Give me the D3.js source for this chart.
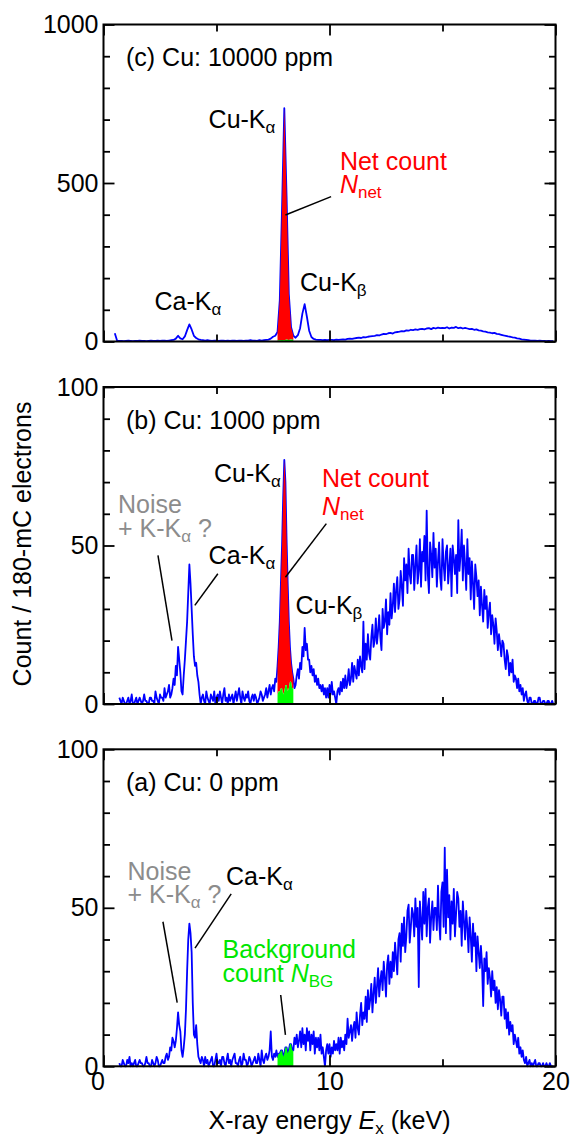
<!DOCTYPE html>
<html>
<head>
<meta charset="utf-8">
<script src="https://cdn.jsdelivr.net/npm/d3@7"></script>
<style>
  body { margin: 0; background: #fff; }
  text { font-family: "Liberation Sans", Arial, sans-serif; }
</style>
</head>
<body>
<svg id="chart" width="571" height="1138"></svg>
<script>
// channel energies in keV
// panel (c): 0.1 keV bins from 0.5 keV, panels (a),(b): 0.05 keV bins from 0.7 keV
var energyC = d3.range(195).map(function(i) { return Math.round((0.5 + i * 0.1) * 100) / 100; });
var energyAB = d3.range(385).map(function(i) { return Math.round((0.7 + i * 0.05) * 100) / 100; });

// (c) Cu 10000 ppm
var countsC = [26,
  3,2,2,1,2,3,2,1,2,2, 3,2,2,1,2,3,2,2,3,2, 3,3,2,3,4,
  5,9,18,10,7,16,36,54,38,18,
  11,7,5,4,3,4,3,2,3,3,
  2,3,3,2,3,2,3,3,2,3,
  3,2,3,3,4,3,3,2,4,3,
  4,5,6,9,15,18,30,130,420,736,
  460,150,45,18,12,20,42,88,118,78,
  34,14,8,6,5,5,4,5,4,5,
  5,4,6,5,6,7,6,8,9,8,
  10,11,12,11,14,13,15,16,17,18,
  20,19,22,24,23,26,27,25,29,30,
  31,33,32,35,34,37,36,38,37,39,
  40,38,41,42,39,43,41,44,42,43,
  42,45,41,44,43,46,42,44,41,43,
  41,39,40,37,38,35,34,32,31,29,
  28,26,27,24,23,21,19,18,16,15,
  13,12,10,9,7,6,5,4,3,3,
  3,2,3,2,2,1,2,1,1];

// (b) Cu 1000 ppm, one row per keV
var countsB = [
  2,1,0,2,1,0,0,1,2,0,1,3,0,0,1,2,0,1,2,1,
  0,1,3,1,1,0,0,2,2,1,1,0,4,2,1,0,3,2,2,1,
  5,2,3,4,6,2,3,5,8,6,12,9,18,14,10,4,3,9,14,20,
  26,35,44,38,30,22,15,12,13,9,7,3,0,2,3,1,0,4,2,1,
  0,3,2,1,4,0,2,3,1,4,2,0,3,5,1,2,0,3,1,2,
  3,0,2,4,1,3,5,2,0,4,2,1,3,2,4,1,0,2,3,1,
  3,2,0,1,2,4,3,1,2,3,5,2,4,6,3,5,6,4,8,7,
  12,18,26,38,50,65,77,70,52,38,26,18,13,10,8,5,6,9,11,8,
  13,11,18,15,24,17,19,14,14,10,12,9,11,7,9,6,8,5,6,4,
  6,3,5,2,5,2,6,3,7,3,4,2,0,4,5,3,7,4,8,5,
  9,5,7,11,6,8,13,7,12,10,8,14,9,15,12,10,26,11,19,14,
  22,16,14,21,25,18,20,27,19,23,28,21,17,30,24,26,33,22,29,25,
  35,27,31,38,29,36,40,30,33,42,37,31,46,39,44,35,49,41,38,47,
  47,36,44,50,38,42,52,37,48,45,53,39,61,41,35,51,47,40,54,43,
  49,37,45,51,40,36,52,44,39,48,50,38,43,49,34,50,46,41,47,35,
  58,42,47,55,39,50,44,36,52,41,46,33,45,38,30,44,40,34,39,28,
  37,31,26,36,30,34,24,29,32,22,28,25,19,27,23,17,22,19,15,20,
  19,14,11,17,15,9,13,10,14,7,9,8,5,8,4,6,3,5,1,3,
  4,1,0,2,2,0,0,1,1,0,0,2,2,0,0,1,1,0,0,1,
  1,0,0,1,0];

// (a) Cu 0 ppm, one row per keV
var countsA = [
  1,0,0,2,1,0,0,2,1,3,0,1,0,1,2,0,0,1,2,1,
  1,0,0,1,3,1,1,0,0,2,1,0,1,3,2,0,0,1,2,1,
  1,3,4,2,3,6,5,9,8,6,8,12,17,13,11,5,3,6,10,18,
  30,40,45,42,36,20,10,9,13,7,3,2,1,3,2,0,3,1,2,0,
  1,2,3,0,0,2,4,1,1,2,0,3,3,1,0,2,4,1,2,0,
  2,3,4,1,1,0,2,3,0,1,4,2,2,0,1,3,2,0,1,2,
  3,1,1,4,2,0,5,2,1,3,4,2,3,5,11,3,2,4,3,5,
  3,4,4,5,5,3,4,6,6,4,5,7,7,5,5,9,7,10,6,8,
  11,6,12,7,10,5,12,8,11,5,10,7,11,4,9,6,9,5,10,4,
  6,3,0,5,7,4,7,3,6,4,8,5,7,5,9,4,9,6,8,5,
  10,7,15,9,11,13,8,12,14,9,17,12,10,16,20,13,17,15,22,14,
  24,18,21,26,17,23,28,20,25,31,22,27,30,24,33,28,22,32,35,26,
  33,28,36,30,39,34,29,40,42,33,45,38,47,36,41,49,51,39,44,50,
  48,41,53,44,50,25,52,46,40,55,45,56,41,50,53,39,47,52,43,50,
  50,43,57,46,40,55,58,44,69,42,62,47,54,40,52,45,56,41,48,55,
  53,44,49,38,52,46,40,49,44,36,47,41,33,45,38,42,30,41,36,31,
  38,32,19,34,30,36,26,31,28,22,30,24,27,20,25,18,24,21,16,22,
  22,15,18,12,17,10,14,11,13,7,10,8,6,9,4,6,3,5,2,1,
  3,0,1,2,0,1,0,1,2,0,0,1,1,0,0,1,0,0,1,0,
  0,1,0,0,0];

// background (0 ppm) counts in the Cu-Ka window, 7.70 - 8.40 keV in 0.05 keV bins
var bgCounts = [3,4,4,5,5,3,4,6,6,4,5,7,7,5,5];
var windowLo = 7.7, windowHi = 8.4;

var xTicksMajor = [0, 10, 20];
var xTicksMinor = [5, 15];
var yTicksC = [0, 500, 1000];
var yTicksAB = [0, 50, 100];

var left = 103.5, width = 452, height = 317;
var svg = d3.select("#chart");

var x = d3.scaleLinear().domain([0, 20]).range([0, width]);

var bgByEnergy = {};
bgCounts.forEach(function(v, i) { bgByEnergy[(windowLo + i * 0.05).toFixed(2)] = v; });

var line = d3.line()
  .x(function(d) { return x(d.e); })
  .y(function(d) { return d.c; });

// small helper for labels with sub scripts / italics
function label(g, px, py, parts, fill) {
  var t = g.append("text")
    .attr("x", px).attr("y", py)
    .attr("font-size", 25)
    .attr("fill", fill || "#000");
  var shift = 0;
  parts.forEach(function(p) {
    var s = t.append("tspan");
    if (typeof p === "string") {
      s.text(p);
      if (shift) { s.attr("dy", -shift); shift = 0; }
    } else if (p.sub) {
      s.attr("font-size", 17).attr("dy", 5).text(p.sub);
      shift = 5;
    } else if (p.it) {
      s.attr("font-style", "italic").text(p.it);
      if (shift) { s.attr("dy", -shift); shift = 0; }
    }
  });
  return t;
}

function leader(g, y, e1, c1, e2, c2) {
  g.append("line")
    .attr("x1", x(e1)).attr("y1", y(c1))
    .attr("x2", x(e2)).attr("y2", y(c2))
    .attr("stroke", "#000").attr("stroke-width", 1.5);
}

function panel(top, energy, counts, ymax, yTicks, title, showNet, showXLabels) {
  var g = svg.append("g").attr("transform", "translate(" + left + "," + top + ")");
  var y = d3.scaleLinear().domain([0, ymax]).range([height, 0]);
  var minor = d3.range(ymax / 10, ymax, ymax / 10);

  // spectrum
  var pts = energy.map(function(e, i) { return {e: e, c: y(counts[i])}; });
  g.append("path")
    .attr("d", line(pts))
    .attr("fill", "none")
    .attr("stroke", "#0000ff")
    .attr("stroke-width", 1.8)
    .attr("stroke-linejoin", "round");

  // Cu-Ka window: net (red) above background (green)
  var win = [];
  energy.forEach(function(e, i) {
    if (e >= windowLo - 1e-6 && e <= windowHi + 1e-6) win.push({e: e, total: counts[i], bg: bgByEnergy[e.toFixed(2)]});
  });
  if (showNet) {
    g.append("path")
      .attr("d", d3.area()
        .x(function(d) { return x(d.e); })
        .y0(function(d) { return y(d.bg); })
        .y1(function(d) { return y(d.total); })(win))
      .attr("fill", "#ff0000");
  }
  g.append("path")
    .attr("d", d3.area()
      .x(function(d) { return x(d.e); })
      .y0(y(0))
      .y1(function(d) { return y(d.bg); })(win))
    .attr("fill", "#00ff00");

  // axes, ticks pointing inwards on all four sides
  function clean(a) {
    a.select(".domain").remove();
    a.selectAll(".tick line").attr("stroke-width", 1.8);
    a.attr("font-size", 25).attr("font-family", null);
  }
  g.append("g").call(d3.axisLeft(y).tickValues(yTicks).tickSize(-11).tickPadding(5).tickFormat(d3.format("d"))).call(clean);
  g.append("g").call(d3.axisLeft(y).tickValues(minor.filter(function(v) { return yTicks.indexOf(v) < 0; })).tickSize(-6.5).tickFormat("")).call(clean);
  g.append("g").attr("transform", "translate(" + width + ",0)")
    .call(d3.axisRight(y).tickValues(yTicks).tickSize(-11).tickFormat("")).call(clean);
  g.append("g").attr("transform", "translate(" + width + ",0)")
    .call(d3.axisRight(y).tickValues(minor).tickSize(-6.5).tickFormat("")).call(clean);
  g.append("g").call(d3.axisTop(x).tickValues(xTicksMajor).tickSize(-11).tickFormat("")).call(clean);
  g.append("g").call(d3.axisTop(x).tickValues(xTicksMinor).tickSize(-7).tickFormat("")).call(clean);
  var bx = g.append("g").attr("transform", "translate(0," + height + ")")
    .call(d3.axisBottom(x).tickValues(xTicksMajor).tickSize(-11).tickPadding(6)
      .tickFormat(showXLabels ? d3.format("d") : ""))
    .call(clean);
  bx.selectAll(".tick text").filter(function(d) { return d === 0; }).attr("dx", -6);
  g.append("g").attr("transform", "translate(0," + height + ")")
    .call(d3.axisBottom(x).tickValues(xTicksMinor).tickSize(-7).tickFormat("")).call(clean);

  // frame
  g.append("rect")
    .attr("width", width).attr("height", height)
    .attr("fill", "none").attr("stroke", "#000").attr("stroke-width", 2);

  g.append("text")
    .attr("x", 22.5).attr("y", 41.5)
    .attr("font-size", 25)
    .text(title);

  return {g: g, y: y};
}

var alpha = "\u03b1", beta = "\u03b2";
var gray = "#8c8c8c", green = "#00e600";

// (c)
var pc = panel(24.5, energyC, countsC, 1000, yTicksC, "(c) Cu: 10000 ppm", true, false);
label(pc.g, x(4.65), pc.y(673), ["Cu-K", {sub: alpha}]);
label(pc.g, x(10.46), pc.y(541), ["Net count"], "#ff0000");
label(pc.g, x(10.46), pc.y(468), [{it: "N"}, {sub: "net"}], "#ff0000");
leader(pc.g, pc.y, 10.07, 457, 8.05, 399);
label(pc.g, x(8.69), pc.y(158), ["Cu-K", {sub: beta}]);
label(pc.g, x(2.26), pc.y(100), ["Ca-K", {sub: alpha}]);

// (b)
var pb = panel(387, energyAB, countsB, 100, yTicksAB, "(b) Cu: 1000 ppm", true, false);
label(pb.g, x(4.89), pb.y(70.1), ["Cu-K", {sub: alpha}]);
label(pb.g, x(9.67), pb.y(68.5), ["Net count"], "#ff0000");
label(pb.g, x(9.67), pb.y(59.5), [{it: "N"}, {sub: "net"}], "#ff0000");
leader(pb.g, pb.y, 9.86, 56.9, 8.05, 40.0);
label(pb.g, x(0.64), pb.y(60.1), ["Noise"], gray);
label(pb.g, x(0.64), pb.y(52.7), ["+ K-K", {sub: alpha}, " ?"], gray);
leader(pb.g, pb.y, 2.41, 46.9, 3.03, 20.0);
label(pb.g, x(4.65), pb.y(44.3), ["Ca-K", {sub: alpha}]);
leader(pb.g, pb.y, 5.06, 41.1, 4.04, 31.1);
label(pb.g, x(8.50), pb.y(28.5), ["Cu-K", {sub: beta}]);

// (a)
var pa = panel(749.3, energyAB, countsA, 100, yTicksAB, "(a) Cu: 0 ppm", false, true);
label(pa.g, x(1.06), pa.y(58.8), ["Noise"], gray);
label(pa.g, x(1.06), pa.y(51.4), ["+ K-K", {sub: alpha}, " ?"], gray);
leader(pa.g, pa.y, 2.63, 45.6, 3.26, 20.1);
label(pa.g, x(5.42), pa.y(57.2), ["Ca-K", {sub: alpha}]);
leader(pa.g, pa.y, 5.65, 54.4, 4.05, 37.3);
label(pa.g, x(5.27), pa.y(34.3), ["Background"], green);
label(pa.g, x(5.27), pa.y(26.7), ["count ", {it: "N"}, {sub: "BG"}], green);
leader(pa.g, pa.y, 7.84, 22.5, 8.05, 9.9);

// axis titles
svg.append("text")
  .attr("transform", "translate(31,544) rotate(-90)")
  .attr("text-anchor", "middle")
  .attr("font-size", 25)
  .text("Count / 180-mC electrons");

var xt = svg.append("text")
  .attr("x", left + width / 2).attr("y", 1129)
  .attr("text-anchor", "middle")
  .attr("font-size", 25);
xt.append("tspan").text("X-ray energy ");
xt.append("tspan").attr("font-style", "italic").text("E");
xt.append("tspan").attr("font-size", 17).attr("dy", 5).text("x");
xt.append("tspan").attr("dy", -5).text(" (keV)");
</script>
</body>
</html>
